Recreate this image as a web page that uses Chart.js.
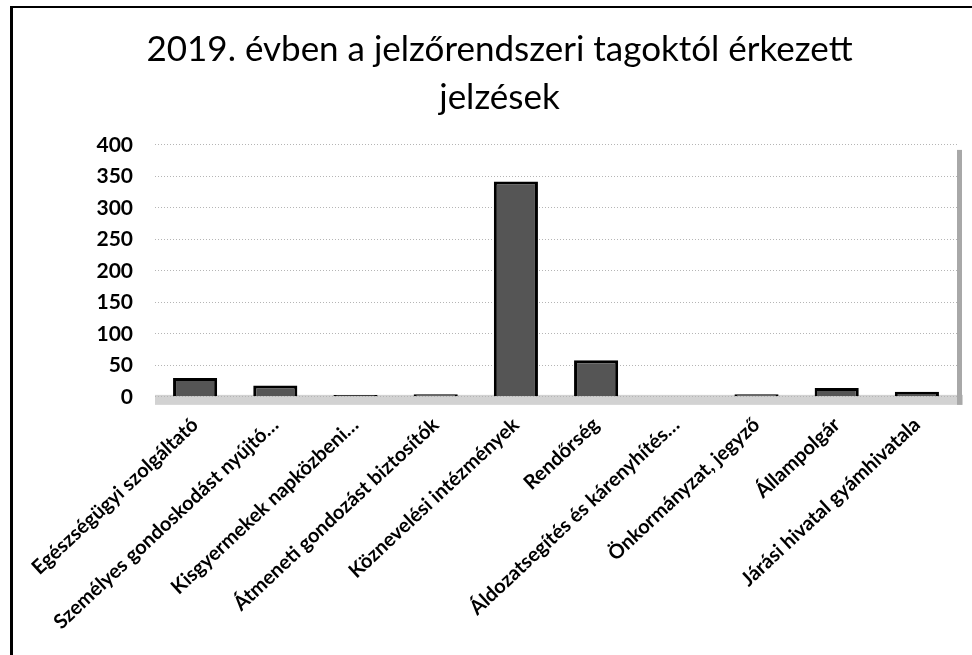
<!DOCTYPE html>
<html lang="hu">
  <head>
    <meta charset="UTF-8" />
    <title>Jelzések 2019</title>
    <script src="https://cdn.jsdelivr.net/npm/chart.js"></script>
    <style>
      body { margin: 0; background: #fff; }
      #wrap { width: 972px; height: 655px; }
    </style>
  </head>
  <body>
    <div id="wrap"><canvas id="jelzesChart"></canvas></div>

    <script>
      // adatok a diagramról leolvasva
      const categories = [
        "Egészségügyi szolgáltató",
        "Személyes gondoskodást nyújtó…",
        "Kisgyermekek napközbeni…",
        "Átmeneti gondozást biztosítók",
        "Köznevelési intézmények",
        "Rendőrség",
        "Áldozatsegítés és kárenyhítés…",
        "Önkormányzat, jegyző",
        "Állampolgár",
        "Járási hivatal gyámhivatala",
      ];
      const jelzesek = [30, 18, 3, 4, 342, 58, 1, 4, 14, 8];
      const yTicks = [0, 50, 100, 150, 200, 250, 300, 350, 400];

      // keret, "padló" és jobb oldali fal rajzolása
      const frame = {
        id: "frame",
        beforeDraw(chart) {
          const { ctx, chartArea: a } = chart;
          ctx.save();
          ctx.fillStyle = "#fff";
          ctx.fillRect(0, 0, chart.width, chart.height);
          ctx.fillStyle = "#d2d2d2";
          ctx.fillRect(a.left, a.bottom - 2, a.right - a.left + 6, 10);
          ctx.fillStyle = "#a8a8a8";
          ctx.fillRect(a.right, a.top + 5, 5, a.bottom - a.top + 3);
          ctx.restore();
        },
        afterDraw(chart) {
          const ctx = chart.ctx;
          ctx.save();
          ctx.fillStyle = "#000";
          ctx.fillRect(10, 6, 3, chart.height - 6);
          ctx.fillRect(10, 6, chart.width - 10, 2);
          ctx.restore();
        },
      };

      function barFill(context) {
        const chart = context.chart;
        const el = context.element;
        if (!el || el.x === undefined) return "#555";
        const w = el.width || 44;
        const g = chart.ctx.createLinearGradient(el.x - w / 2, 0, el.x + w / 2, 0);
        g.addColorStop(0, "#2e2e2e");
        g.addColorStop(0.5, "#707070");
        g.addColorStop(1, "#2e2e2e");
        return g;
      }

      const ctx = document.getElementById("jelzesChart").getContext("2d");
      new Chart(ctx, {
        type: "bar",
        data: {
          labels: categories,
          datasets: [
            {
              label: "Jelzések",
              data: jelzesek,
              backgroundColor: barFill,
              borderColor: "#000",
              borderWidth: 3,
              barPercentage: 0.55,
              categoryPercentage: 1,
            },
          ],
        },
        options: {
          responsive: true,
          maintainAspectRatio: false,
          animation: false,
          layout: { padding: { left: 42, right: 15, top: 0, bottom: 5 } },
          plugins: {
            legend: { display: false },
            tooltip: { enabled: false },
            title: {
              display: true,
              text: ["2019. évben a jelzőrendszeri tagoktól érkezett", "jelzések"],
              color: "#000",
              font: { family: "Lato", size: 35, weight: "normal", lineHeight: 1.37 },
              padding: { top: 26, bottom: 23 },
            },
          },
          scales: {
            x: {
              grid: { display: false, drawTicks: false },
              border: { display: false },
              ticks: {
                color: "#000",
                font: { family: "Lato", size: 20, weight: "bold" },
                minRotation: 43,
                maxRotation: 43,
                autoSkip: false,
                padding: 16,
              },
            },
            y: {
              min: 0,
              max: 400,
              afterBuildTicks(axis) {
                axis.ticks = yTicks.map((v) => ({ value: v }));
              },
              afterFit(axis) {
                axis.width = 113;
              },
              grid: { color: "#b5b5b5", lineWidth: 1, drawTicks: false },
              border: { display: false, dash: [1, 2] },
              ticks: {
                color: "#000",
                font: { family: "Lato", size: 21, weight: "bold" },
                padding: 22,
              },
            },
          },
        },
        plugins: [frame],
      });
    </script>
  </body>
</html>
